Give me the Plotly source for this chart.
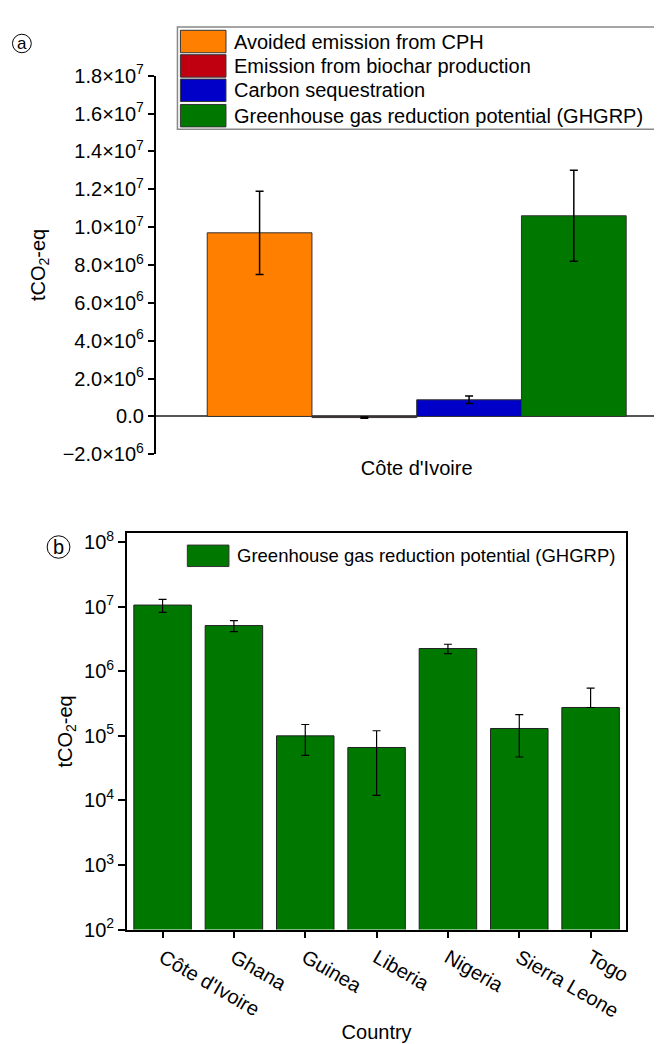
import plotly.graph_objects as go

# ---------------- data ----------------
region_a = ["Côte d'Ivoire"]
components = ["Avoided emission from CPH",
              "Emission from biochar production",
              "Carbon sequestration",
              "Greenhouse gas reduction potential (GHGRP)"]
component_values = [9.7e6, -6.0e4, 8.8e5, 1.06e7]
component_errors = [2.2e6, 3.0e4, 2.0e5, 2.4e6]
component_colors = ["#FF7F00", "#C00010", "#0000C8", "#007800"]

ya_tickvals = [-2e6, 0, 2e6, 4e6, 6e6, 8e6, 1e7, 1.2e7, 1.4e7, 1.6e7, 1.8e7]
ya_ticktext = ["\u22122.0\u00d710<sup>6</sup>", "0.0",
               "2.0\u00d710<sup>6</sup>", "4.0\u00d710<sup>6</sup>",
               "6.0\u00d710<sup>6</sup>", "8.0\u00d710<sup>6</sup>",
               "1.0\u00d710<sup>7</sup>", "1.2\u00d710<sup>7</sup>",
               "1.4\u00d710<sup>7</sup>", "1.6\u00d710<sup>7</sup>",
               "1.8\u00d710<sup>7</sup>"]

countries = ["Côte d'Ivoire", "Ghana", "Guinea", "Liberia", "Nigeria",
             "Sierra Leone", "Togo"]
ghgrp = [1.06e7, 5.1e6, 1.0e5, 6.6e4, 2.25e6, 1.3e5, 2.75e5]
ghgrp_err_plus = [2.4e6, 1.0e6, 5.0e4, 5.4e4, 3.7e5, 8.3e4, 2.75e5]
ghgrp_err_minus = [2.4e6, 1.0e6, 5.0e4, 5.4e4, 3.7e5, 8.3e4, 0]
yb_tickvals = [1e2, 1e3, 1e4, 1e5, 1e6, 1e7, 1e8]
yb_ticktext = ["10<sup>2</sup>", "10<sup>3</sup>", "10<sup>4</sup>",
               "10<sup>5</sup>", "10<sup>6</sup>", "10<sup>7</sup>",
               "10<sup>8</sup>"]

# ---------------- helpers ----------------
# The page body has an 8px default margin, so the figure is 8px smaller
# and reference pixel positions are shifted by that margin.
PAGE_W, PAGE_H, BODY_M = 662, 1044, 8
W, H = PAGE_W - BODY_M, PAGE_H - BODY_M
FONT = "Liberation Sans, Arial, sans-serif"


def px(x):
    return (x - BODY_M) / W


def py(y):
    return 1 - (y - BODY_M) / H


fig = go.Figure()

# Panel (a): grouped bars with explicit offsets
group_width = 0.839
bw = group_width / len(components)
for i, (name, v, e, c) in enumerate(zip(components, component_values,
                                        component_errors, component_colors)):
    fig.add_trace(go.Bar(
        x=region_a, y=[v], name=name, showlegend=False,
        width=bw, offset=-group_width / 2 + i * bw,
        marker=dict(color=c, line=dict(color="#333333", width=1)),
        error_y=dict(type="data", array=[e], color="black",
                     thickness=1.5, width=4),
        xaxis="x", yaxis="y"))

# Panel (b)
fig.add_trace(go.Bar(
    x=countries, y=ghgrp, name=components[3], showlegend=False,
    width=0.806,
    marker=dict(color=component_colors[3], line=dict(color="#222222", width=1)),
    error_y=dict(type="data", symmetric=False, array=ghgrp_err_plus,
                 arrayminus=ghgrp_err_minus, color="black",
                 thickness=1.2, width=4),
    xaxis="x2", yaxis="y2"))

tickfont = dict(family=FONT, size=20, color="black")

fig.update_layout(
    width=W, height=H,
    margin=dict(l=0, r=0, t=0, b=0),
    paper_bgcolor="white", plot_bgcolor="white",
    barmode="overlay",
    font=dict(family=FONT, size=20, color="black"),
    showlegend=False,
    xaxis=dict(domain=[px(157), px(661)], anchor="y", type="category",
               range=[-0.5228, 0.4772], showline=False, ticks="",
               showgrid=False, zeroline=False, tickfont=tickfont,
               fixedrange=True),
    yaxis=dict(domain=[py(451), py(63)], anchor="x", range=[-2e6, 1.8e7],
               tickvals=ya_tickvals, ticktext=ya_ticktext,
               showline=True, linecolor="black", linewidth=1.5,
               ticks="outside", ticklen=6, tickwidth=1.5, tickcolor="black",
               showgrid=False, zeroline=True, zerolinecolor="#555555",
               zerolinewidth=1.5, tickfont=tickfont,
               title=dict(text="tCO<sub>2</sub>-eq", standoff=12,
                          font=dict(family=FONT, size=20))),
    xaxis2=dict(domain=[px(128), px(632)], anchor="y2", type="category",
                showline=True, mirror=True, linecolor="black", linewidth=1.5,
                ticks="outside", ticklen=7, tickwidth=1.5, tickcolor="black",
                tickangle=30, showgrid=False, zeroline=False,
                tickfont=tickfont,
                title=dict(text="Country", standoff=4,
                           font=dict(family=FONT, size=20))),
    yaxis2=dict(domain=[py(938), py(532)], anchor="x2", type="log",
                range=[2, 8.136], tickvals=yb_tickvals, ticktext=yb_ticktext,
                showline=True, mirror=True, linecolor="black", linewidth=1.5,
                ticks="outside", ticklen=7, tickwidth=1.5, tickcolor="black",
                showgrid=False, zeroline=False, tickfont=tickfont,
                title=dict(text="tCO<sub>2</sub>-eq", standoff=6,
                           font=dict(family=FONT, size=20))),
)

shapes = []
annotations = []

# Custom legend for panel (a)
shapes.append(dict(type="rect", xref="paper", yref="paper",
                   x0=px(179), x1=px(661), y0=py(118), y1=py(13),
                   line=dict(color="#888888", width=1.5), fillcolor="white",
                   layer="above"))
row_centers = [28, 53, 78, 104]
for name, c, yc in zip(components, component_colors, row_centers):
    shapes.append(dict(type="rect", xref="paper", yref="paper",
                       x0=px(182), x1=px(228), y0=py(yc + 11.5),
                       y1=py(yc - 11.5),
                       line=dict(color="#333333", width=1), fillcolor=c,
                       layer="above"))
    annotations.append(dict(xref="paper", yref="paper", x=px(234), y=py(yc),
                            xanchor="left", yanchor="middle", text=name,
                            showarrow=False,
                            font=dict(family=FONT, size=20, color="black")))

# Custom legend for panel (b)
shapes.append(dict(type="rect", xref="paper", yref="paper",
                   x0=px(189), x1=px(231), y0=py(566), y1=py(544),
                   line=dict(color="#333333", width=1),
                   fillcolor=component_colors[3], layer="above"))
annotations.append(dict(xref="paper", yref="paper", x=px(237), y=py(555),
                        xanchor="left", yanchor="middle", text=components[3],
                        showarrow=False,
                        font=dict(family=FONT, size=18.5, color="black")))

# Panel letters
for letter, cx, cy, r, fs in [("a", 22, 30, 9.5, 17), ("b", 59, 546, 11.5, 20)]:
    shapes.append(dict(type="circle", xref="paper", yref="paper",
                       x0=px(cx - r), x1=px(cx + r), y0=py(cy + r),
                       y1=py(cy - r), line=dict(color="black", width=1)))
    annotations.append(dict(xref="paper", yref="paper", x=px(cx), y=py(cy),
                            xanchor="center", yanchor="middle", text=letter,
                            showarrow=False,
                            font=dict(family=FONT, size=fs, color="black")))

fig.update_layout(shapes=shapes, annotations=annotations)

fig.write_html("out.html")
